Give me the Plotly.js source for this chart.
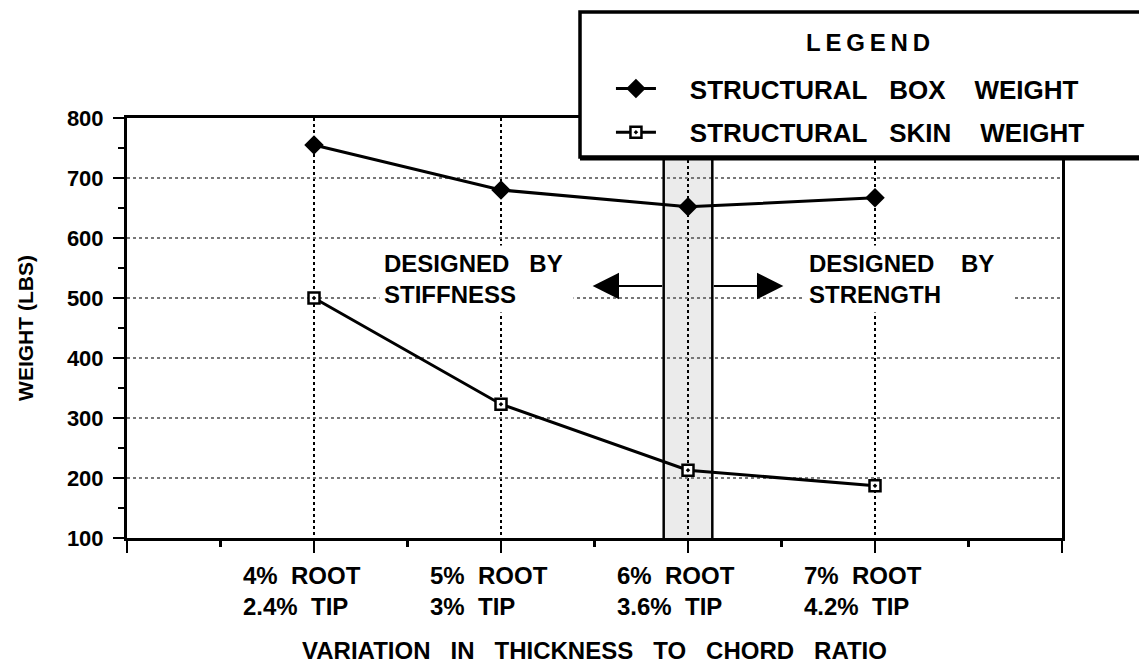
<!DOCTYPE html>
<html>
<head>
<meta charset="utf-8">
<script src="https://cdn.plot.ly/plotly-3.0.1.min.js"></script>
<style>html,body{margin:0;padding:0;background:#fff;}#chart{width:1139px;height:664px;}</style>
</head>
<body>
<div id="chart"></div>
<script>
// ---- data ----
const categoryPositions = [1, 2, 3, 4];
const rootLabels = ['4%', '5%', '6%', '7%'];
const tipLabels = ['2.4%', '3%', '3.6%', '4.2%'];
const boxWeight = [755, 680, 652, 667];
const skinWeight = [500, 323, 213, 187];
const seriesNames = ['STRUCTURAL   BOX    WEIGHT', 'STRUCTURAL   SKIN    WEIGHT'];
const legendTitle = 'LEGEND';
const yTickValues = [100, 200, 300, 400, 500, 600, 700, 800];
const xTitle = 'VARIATION   IN   THICKNESS   TO   CHORD   RATIO';
const yTitle = 'WEIGHT (LBS)';
const leftNote = ['DESIGNED   BY', 'STIFFNESS'];
const rightNote = ['DESIGNED    BY', 'STRENGTH'];

const NB = s => s.replace(/ /g, '\u00a0');
const FONT = 'Liberation Sans, Arial, Helvetica, sans-serif';
const f = (size) => ({family: FONT, size: size, color: '#000', weight: 'bold'});
const PAD = '\u00a0'.repeat(4);

const traces = [
  {
    x: categoryPositions, y: boxWeight, name: PAD + NB(seriesNames[0]),
    type: 'scatter', mode: 'lines+markers',
    line: {color: '#000', width: 3},
    marker: {symbol: 'diamond', size: 15, color: '#000'},
    legendgroup: 'a', cliponaxis: false
  },
  {
    x: categoryPositions, y: skinWeight, name: PAD + NB(seriesNames[1]),
    type: 'scatter', mode: 'lines+markers',
    line: {color: '#000', width: 3},
    marker: {symbol: 'square-dot', size: 11, color: '#fff', line: {color: '#000', width: 2.5}},
    legendgroup: 'b', cliponaxis: false
  }
];

const annotations = [];
categoryPositions.forEach((c, i) => {
  annotations.push({
    x: c, xref: 'x', y: 0, yref: 'paper', xanchor: 'left', yanchor: 'top',
    xshift: -73, yshift: -22, align: 'left', showarrow: false,
    text: NB(rootLabels[i] + '  ROOT') + '<br>' + NB(tipLabels[i] + '  TIP'),
    font: f(24)
  });
});
// region notes (white backing hides the grid line behind them, as in the original)
[[leftNote, 1.35, 8], [rightNote, 3.62, 10]].forEach(([lines, xx, padN]) => {
  annotations.push({x: xx, y: 532, xref: 'x', yref: 'y', xanchor: 'left', yanchor: 'middle',
    showarrow: false, align: 'left', bgcolor: '#fff', borderpad: 4,
    text: NB(lines[0]) + '<br>' + NB(lines[1]) + '\u00a0'.repeat(padN), font: f(24)});
});
// arrows
annotations.push({x: 2.49, y: 520, ax: 2.87, ay: 520, xref: 'x', yref: 'y', axref: 'x', ayref: 'y',
  showarrow: true, arrowhead: 2, arrowsize: 2.4, arrowwidth: 2.2, arrowcolor: '#000', text: ''});
annotations.push({x: 3.51, y: 520, ax: 3.13, ay: 520, xref: 'x', yref: 'y', axref: 'x', ayref: 'y',
  showarrow: true, arrowhead: 2, arrowsize: 2.4, arrowwidth: 2.2, arrowcolor: '#000', text: ''});
// legend heading
annotations.push({x: 0.7925, y: 1.1786, xref: 'paper', yref: 'paper', xanchor: 'center', yanchor: 'middle',
  showarrow: false, text: legendTitle.split('').join('\u2009'), font: f(24)});

const shapes = [
  {type: 'rect', xref: 'x', yref: 'y', x0: 2.87, x1: 3.13, y0: 100, y1: 800,
   fillcolor: '#ebebeb', line: {width: 0}, layer: 'below'},
  {type: 'line', xref: 'x', yref: 'y', x0: 2.87, x1: 2.87, y0: 100, y1: 800, line: {color: '#000', width: 2.5}, layer: 'between'},
  {type: 'line', xref: 'x', yref: 'y', x0: 3.13, x1: 3.13, y0: 100, y1: 800, line: {color: '#000', width: 2.5}, layer: 'between'},
  // legend frame (extends past the right edge of the page, as in the original)
  {type: 'rect', xref: 'paper', yref: 'paper', x0: 0.4845, x1: 1.094, y0: 0.9071, y1: 1.2524,
   fillcolor: '#fff', line: {color: '#000', width: 3.5}, layer: 'above'},
  {type: 'line', xref: 'paper', yref: 'paper', x0: 0.4845, x1: 1.094, y0: 0.9024, y1: 0.9024,
   line: {color: '#000', width: 3}, layer: 'above'}
];

const layout = {
  width: 1139, height: 664,
  margin: {l: 127, r: 77, t: 118, b: 126, autoexpand: false},
  paper_bgcolor: '#fff', plot_bgcolor: '#fff',
  showlegend: true,
  legend: {
    x: 0.5176, xanchor: 'left', y: 1.1262, yanchor: 'top',
    bgcolor: 'rgba(0,0,0,0)', borderwidth: 0,
    font: f(26), traceorder: 'grouped', tracegroupgap: 7,
    itemwidth: 40
  },
  xaxis: {
    range: [0, 5], tickmode: 'array', tickvals: [0, 1, 2, 3, 4, 5], showticklabels: false,
    ticks: 'outside', ticklen: 12, tickwidth: 2.5, tickcolor: '#000',
    minor: {dtick: 0.5, ticks: 'outside', ticklen: 6, tickwidth: 2.5, tickcolor: '#000', showgrid: false},
    showline: true, linecolor: '#000', linewidth: 3, mirror: true,
    showgrid: true, gridcolor: '#000', griddash: 'dot', gridwidth: 1.5,
    zeroline: false, fixedrange: true,
    title: {text: NB(xTitle), font: f(24), standoff: 100}
  },
  yaxis: {
    range: [100, 800], tickmode: 'array', tickvals: yTickValues,
    ticks: 'outside', ticklen: 11, tickwidth: 2.5, tickcolor: '#000',
    ticklabelstandoff: 5,
    minor: {dtick: 50, tick0: 0, ticks: 'outside', ticklen: 6, tickwidth: 2.5, tickcolor: '#000', showgrid: false},
    showline: true, linecolor: '#000', linewidth: 3, mirror: true,
    showgrid: true, gridcolor: '#777', griddash: 'dot', gridwidth: 2,
    zeroline: false, fixedrange: true, tickfont: f(22),
    title: {text: NB(yTitle), font: f(21), standoff: 28}
  },
  shapes: shapes,
  annotations: annotations
};

Plotly.newPlot('chart', traces, layout, {staticPlot: true, displayModeBar: false});
</script>
</body>
</html>
